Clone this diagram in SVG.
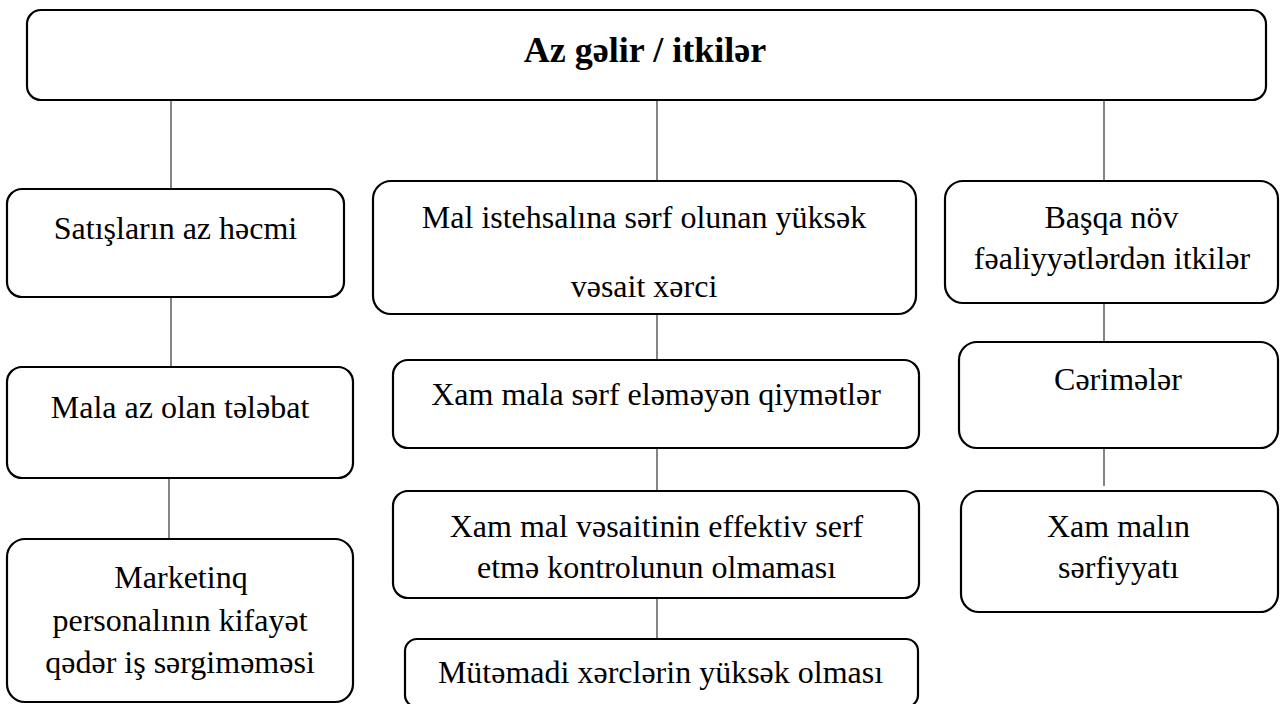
<svg xmlns="http://www.w3.org/2000/svg" width="1284" height="704" viewBox="0 0 1284 704">
<style>
.box{fill:#fff;stroke:#000;stroke-width:2.2}
.t{font-family:'Liberation Serif',serif;font-size:32px;fill:#000;text-anchor:middle}
.title{font-family:'Liberation Serif',serif;font-size:36px;font-weight:bold;fill:#000;text-anchor:middle}
.c{stroke:#333;stroke-width:1.2;fill:none}
</style>
<rect width="1284" height="704" fill="#fff"/>
<g id="connectors">
<line class="c" x1="171" y1="100" x2="171" y2="189"/>
<line class="c" x1="657" y1="100" x2="657" y2="181"/>
<line class="c" x1="1104" y1="100" x2="1104" y2="181"/>
<line class="c" x1="171" y1="297" x2="171" y2="367"/>
<line class="c" x1="169" y1="478" x2="169" y2="539"/>
<line class="c" x1="657" y1="314" x2="657" y2="360"/>
<line class="c" x1="657" y1="448" x2="657" y2="491"/>
<line class="c" x1="657" y1="598" x2="657" y2="639"/>
<line class="c" x1="1104" y1="303" x2="1104" y2="342"/>
<line class="c" x1="1104" y1="448" x2="1104" y2="486"/>
</g>
<g id="root">
<rect class="box" x="27" y="10" width="1239" height="90" rx="14"/>
<text class="title" x="645" y="62">Az gəlir / itkilər</text>
</g>
<g id="n1">
<rect class="box" x="7" y="189" width="337" height="108" rx="15"/>
<text class="t" x="175.5" y="239">Satışların az həcmi</text>
</g>
<g id="n2">
<rect class="box" x="7" y="367" width="346" height="111" rx="15"/>
<text class="t" x="180" y="418">Mala az olan tələbat</text>
</g>
<g id="n3">
<rect class="box" x="7" y="539" width="346" height="163" rx="18"/>
<text class="t" x="181" y="588">Marketinq</text>
<text class="t" x="180" y="631">personalının kifayət</text>
<text class="t" x="180" y="673">qədər iş sərgiməməsi</text>
</g>
<g id="n4">
<rect class="box" x="373" y="181" width="543" height="133" rx="18"/>
<text class="t" x="644" y="228">Mal istehsalına sərf olunan yüksək</text>
<text class="t" x="644" y="297">vəsait xərci</text>
</g>
<g id="n5">
<rect class="box" x="393" y="360" width="526" height="88" rx="15"/>
<text class="t" x="656" y="405">Xam mala sərf eləməyən qiymətlər</text>
</g>
<g id="n6">
<rect class="box" x="393" y="491" width="526" height="107" rx="15"/>
<text class="t" x="656.5" y="537">Xam mal vəsaitinin effektiv serf</text>
<text class="t" x="656.5" y="578">etmə kontrolunun olmaması</text>
</g>
<g id="n7">
<rect class="box" x="405" y="639" width="513" height="68" rx="12"/>
<text class="t" x="660.5" y="683">Mütəmadi xərclərin yüksək olması</text>
</g>
<g id="n8">
<rect class="box" x="945" y="181" width="333" height="122" rx="18"/>
<text class="t" x="1111.5" y="228">Başqa növ</text>
<text class="t" x="1112" y="269">fəaliyyətlərdən itkilər</text>
</g>
<g id="n9">
<rect class="box" x="959" y="342" width="319" height="106" rx="18"/>
<text class="t" x="1118" y="390">Cərimələr</text>
</g>
<g id="n10">
<rect class="box" x="961" y="491" width="317" height="121" rx="18"/>
<text class="t" x="1118.5" y="537">Xam malın</text>
<text class="t" x="1118.5" y="578">sərfiyyatı</text>
</g>
</svg>
